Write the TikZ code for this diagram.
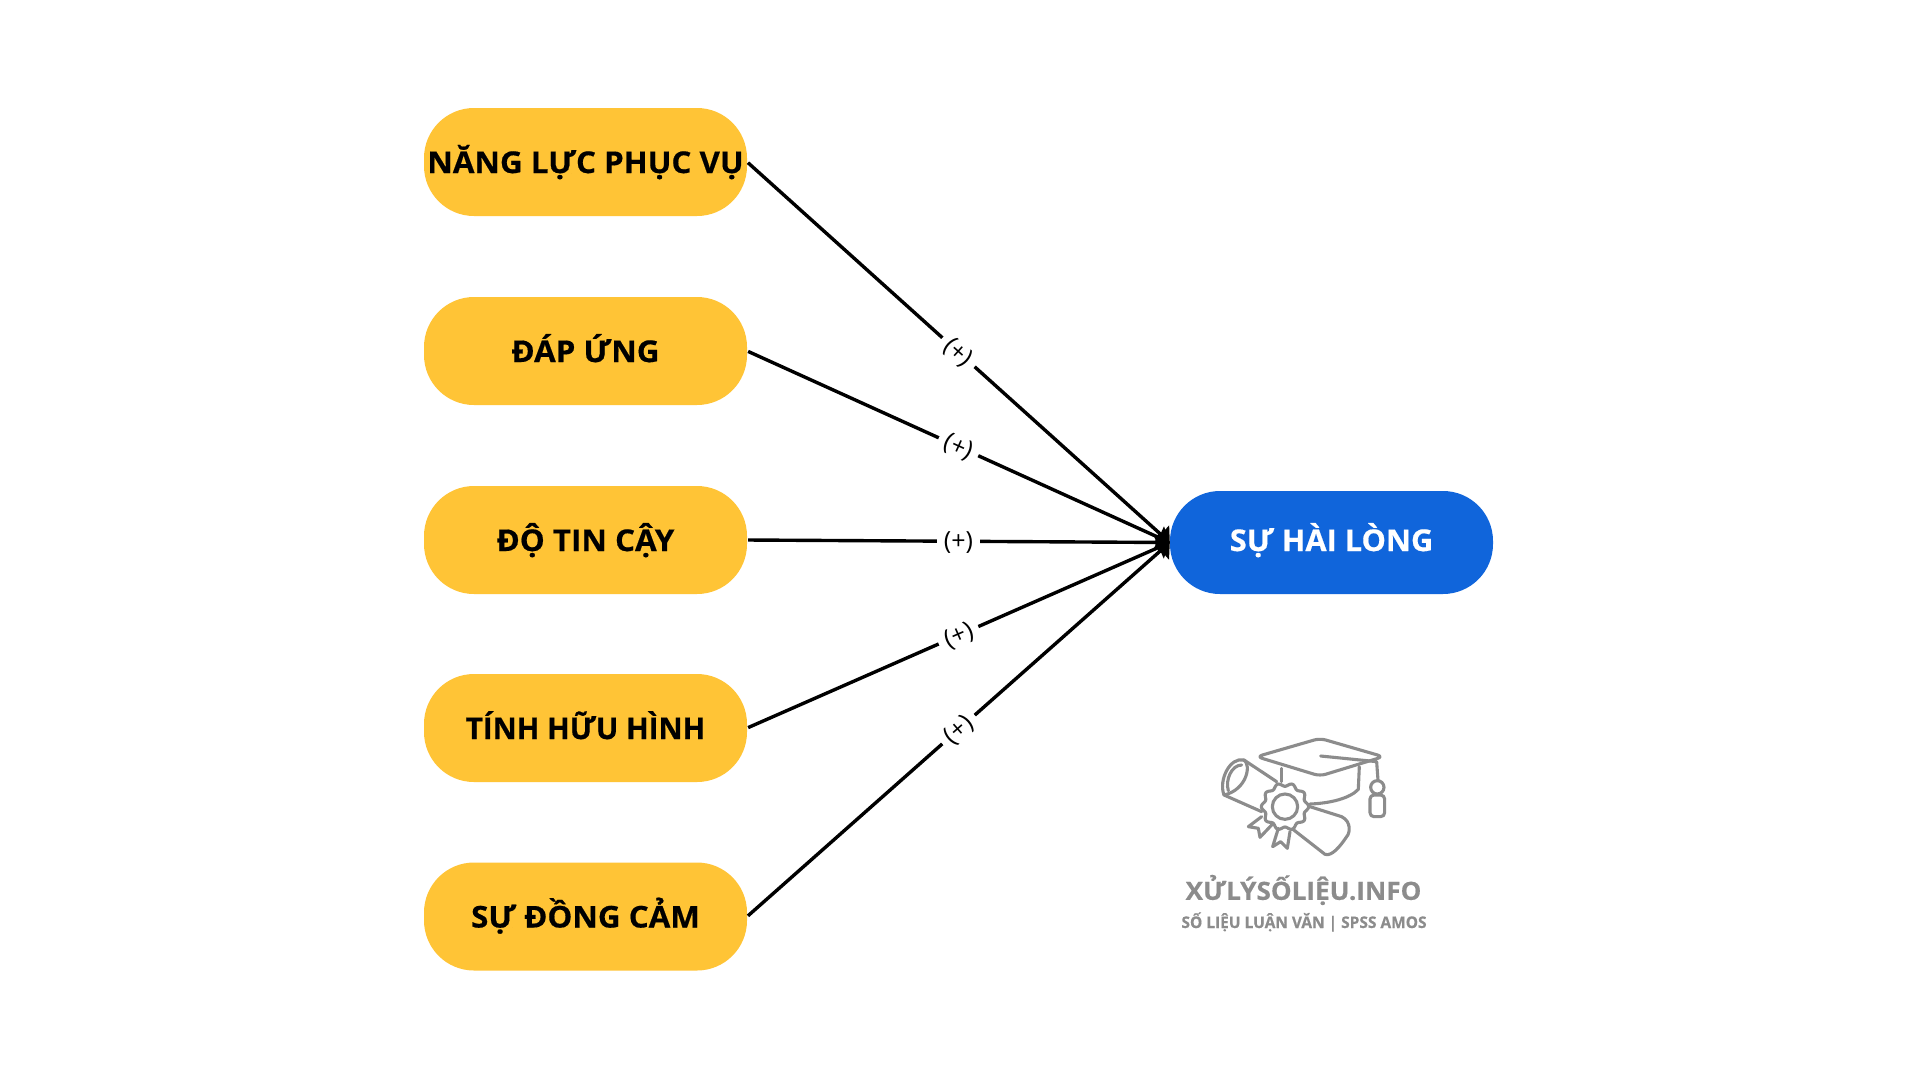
\documentclass[tikz,border=0pt]{standalone}
\usepackage{fontspec}
\setmainfont{Open Sans}[FakeStretch=1.045,BoldFeatures={FakeBold=0.5}]
\newfontfamily\lblfont{Open Sans}
\usetikzlibrary{arrows.meta}
\definecolor{boxyellow}{HTML}{FFC436}
\definecolor{boxblue}{HTML}{1065DB}
\definecolor{logogray}{HTML}{8C8C8C}
\tikzset{
  pill/.style={rectangle,rounded corners=50pt,minimum width=323pt,minimum height=108pt,inner sep=0pt,text height=22pt,text depth=0pt,font=\fontsize{30}{36}\selectfont\bfseries},
  srcbox/.style={pill,fill=boxyellow,text=black},
  dstbox/.style={pill,fill=boxblue,text=white,minimum height=103pt,text depth=5pt},
  link/.style={line width=3.4pt,draw=black,-{Triangle[length=12pt,width=24pt]},shorten <=1pt},
  signlbl/.style={fill=white,inner xsep=7pt,inner ysep=3pt,yshift=-1pt,font=\lblfont\fontsize{25}{30}\selectfont},
  logoline/.style={draw=logogray,line width=3.1pt,line join=round,line cap=round},
  logotxt/.style={text=logogray,inner sep=0pt,font=\bfseries},
}
\begin{document}
\begin{tikzpicture}[x=1pt,y=-1pt]
\useasboundingbox[fill=white] (0,0) rectangle (1920,1080);
\node[srcbox] (a) at (585.5,162) {NĂNG LỰC PHỤC VỤ};
\node[srcbox] (b) at (585.5,351) {ĐÁP ỨNG};
\node[srcbox] (c) at (585.5,540) {ĐỘ TIN CẬY};
\node[srcbox] (d) at (585.5,728) {\scalebox{.945}[1]{TÍNH HỮU HÌNH}};
\node[srcbox] (e) at (585.5,916.5) {SỰ ĐỒNG CẢM};
\node[dstbox] (t) at (1331.5,542.5) {\scalebox{.98}[1]{SỰ HÀI LÒNG}};
\draw[link] (a.east) -- node[signlbl,sloped,pos=.5] (la) {(+)} (t.west);
\draw[link] (b.east) -- node[signlbl,sloped,pos=.5] (lb) {(+)} (t.west);
\draw[link] (c.east) -- node[signlbl,pos=.5] (lc) {(+)} (t.west);
\draw[link] (d.east) -- node[signlbl,sloped,pos=.5] (ld) {(+)} (t.west);
\draw[link] (e.east) -- node[signlbl,sloped,pos=.5] (le) {(+)} (t.west);
% logo
\begin{scope}[shift={(1150,700)},x=0.3333pt,y=-0.3333pt]
  \draw[logoline,fill=white,rounded corners=6pt] (320,170) -- (510,115) -- (700,170) -- (510,228) -- cycle;
  \draw[logoline] (512,168) -- (680,185) -- (684,240);
  \draw[logoline] (682,262) circle[radius=20];
  \draw[logoline,rounded corners=4pt] (660,285) rectangle (704,350);
  \draw[logoline] (395,205) -- (395,245);
  \draw[logoline] (628,200) -- (625,268) .. controls (600,295) and (540,310) .. (480,312);
  \draw[logoline] (282,180) -- (380,245);
  \draw[logoline] (222,285) -- (335,335);
  \draw[logoline] (282,180) .. controls (240,170) and (205,240) .. (222,285);
  \draw[logoline] (282,180) .. controls (305,195) and (290,270) .. (222,285);
  \draw[logoline] (275,195) .. controls (245,195) and (225,240) .. (235,272);
  \draw[logoline] (480,320) -- (575,350) .. controls (605,365) and (600,400) .. (590,410) .. controls (570,440) and (545,470) .. (525,463) -- (425,385);
  \draw[logoline,fill=white] plot[domain=0:360,samples=121,smooth] ({405+(66+5*cos(10*\x))*cos(\x)},{320+(66+5*cos(10*\x))*sin(\x)});
  \draw[logoline] (405,320) circle[radius=38];
  \draw[logoline] (335,350) -- (295,380) -- (325,385) -- (330,412) -- (365,375);
  \draw[logoline] (385,385) -- (368,440) -- (392,425) -- (412,445) -- (420,395);
\end{scope}
\node[logotxt,font=\fontsize{25}{30}\selectfont\bfseries] (lg1) at (1303.5,890) {XỬLÝSỐLIỆU.INFO};
\node[logotxt,xscale=.925,font=\fontsize{16}{20}\selectfont\bfseries] (lg2) at (1304,922) {SỐ LIỆU LUẬN VĂN | SPSS AMOS};
\end{tikzpicture}
\end{document}
